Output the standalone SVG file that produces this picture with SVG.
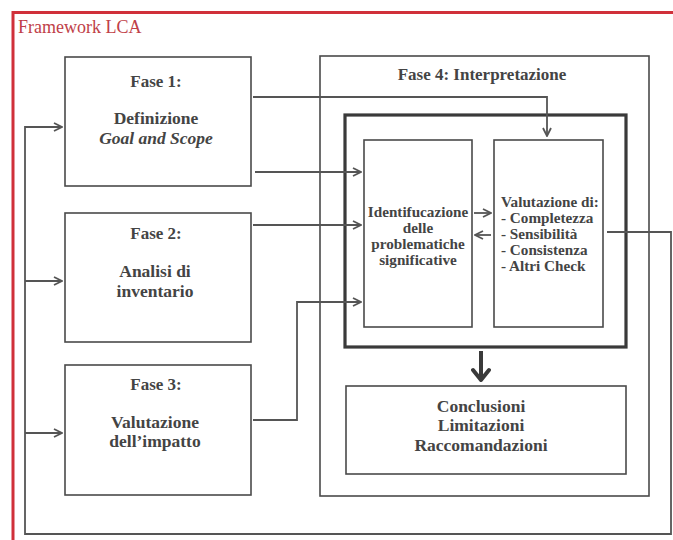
<svg xmlns="http://www.w3.org/2000/svg" width="673" height="540" viewBox="0 0 673 540">
<style>
.box{fill:#fff;stroke:#4a4a4a;stroke-width:1.6}
.thick{fill:none;stroke:#3a3a3a;stroke-width:3.2}
.ln{fill:none;stroke:#555;stroke-width:1.8}
.t{font-family:"Liberation Serif","DejaVu Serif",serif;font-weight:bold;fill:#444;text-anchor:middle}
.h{font-size:17px}
.m{font-size:17.5px}
.s{font-size:15.2px}
.l{text-anchor:start}
</style>
<defs>
<marker id="ar" viewBox="0 0 10 10" refX="9" refY="5" markerWidth="10" markerHeight="10" markerUnits="userSpaceOnUse" orient="auto">
<path d="M1,1 L9,5 L1,9" fill="none" stroke="#555" stroke-width="1.8"/>
</marker>
<marker id="big" viewBox="0 0 20 20" refX="10" refY="18" markerWidth="20" markerHeight="20" markerUnits="userSpaceOnUse" orient="0">
<path d="M2,8 L10,18 L18,8" fill="none" stroke="#3a3a3a" stroke-width="4" stroke-linecap="round" stroke-linejoin="round"/>
</marker>
</defs>
<rect width="673" height="540" fill="#fff"/>
<path d="M13,540 V12.5 H673" fill="none" stroke="#d0303a" stroke-width="3"/>
<text x="18" y="33" font-family="Liberation Serif,'DejaVu Serif',serif" font-size="18" fill="#c04048">Framework LCA</text>

<g id="fase4">
<rect class="box" x="320" y="56" width="329" height="440"/>
<text class="t h" x="482" y="80">Fase 4: Interpretazione</text>
</g>
<g id="interp">
<rect class="thick" x="345" y="115" width="281" height="232"/>
</g>
<g id="fase1">
<rect class="box" x="65" y="57" width="186" height="129"/>
<text class="t h" x="156" y="87">Fase 1:</text>
<text class="t m" x="156" y="123.5">Definizione</text>
<text class="t m" x="156" y="143.5" font-style="italic">Goal and Scope</text>
</g>
<g id="fase2">
<rect class="box" x="65" y="213" width="186" height="129"/>
<text class="t h" x="156" y="239">Fase 2:</text>
<text class="t m" x="155" y="277">Analisi di</text>
<text class="t m" x="155" y="297">inventario</text>
</g>
<g id="fase3">
<rect class="box" x="65" y="365" width="186" height="130"/>
<text class="t h" x="156" y="390">Fase 3:</text>
<text class="t m" x="155" y="427.5">Valutazione</text>
<text class="t m" x="155" y="447">dell’impatto</text>
</g>
<g id="ident">
<rect class="box" x="364" y="140" width="108" height="187"/>
<text class="t s" x="418" y="217">Identifucazione</text>
<text class="t s" x="418" y="233">delle</text>
<text class="t s" x="418" y="249">problematiche</text>
<text class="t s" x="418" y="265">significative</text>
</g>
<g id="valut">
<rect class="box" x="494" y="140" width="109" height="187"/>
<text class="t s l" x="501" y="207">Valutazione di:</text>
<text class="t s l" x="501" y="223">- Completezza</text>
<text class="t s l" x="501" y="239">- Sensibilità</text>
<text class="t s l" x="501" y="255">- Consistenza</text>
<text class="t s l" x="501" y="271">- Altri Check</text>
</g>
<g id="concl">
<rect class="box" x="346" y="386" width="280" height="88"/>
<text class="t m" x="481" y="411.5">Conclusioni</text>
<text class="t m" x="481" y="431">Limitazioni</text>
<text class="t m" x="481" y="450.5">Raccomandazioni</text>
</g>

<g id="connectors">
<path class="ln" d="M253,97 H547 V136" marker-end="url(#ar)"/>
<path class="ln" d="M255,172 H361" marker-end="url(#ar)"/>
<path class="ln" d="M253,225 H361" marker-end="url(#ar)"/>
<path class="ln" d="M253,420 H297 V302 H361" marker-end="url(#ar)"/>
<path class="ln" d="M474,213 H491" marker-end="url(#ar)"/>
<path class="ln" d="M491,235 H475" marker-end="url(#ar)"/>
<path class="ln" d="M607,232 H671 V534 H25 V127 H62" marker-end="url(#ar)"/>
<path class="ln" d="M25,281 H62" marker-end="url(#ar)"/>
<path class="ln" d="M25,433 H62" marker-end="url(#ar)"/>
<path d="M481,351 V380" fill="none" stroke="#3a3a3a" stroke-width="4" marker-end="url(#big)"/>
</g>
</svg>
